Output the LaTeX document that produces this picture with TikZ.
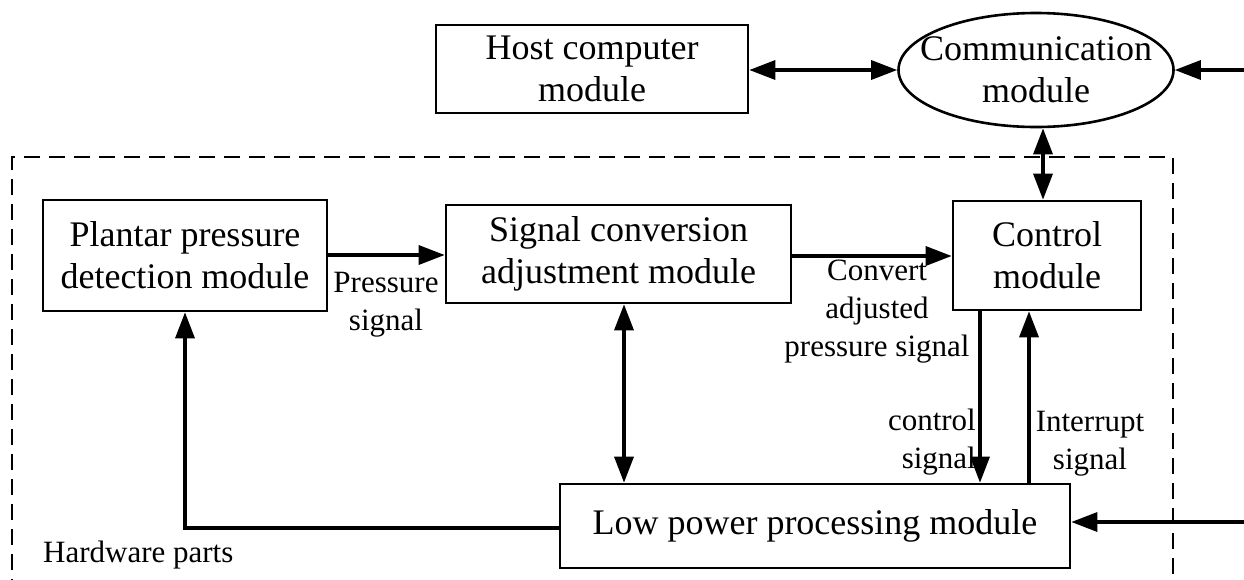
\documentclass[tikz,border=0pt]{standalone}
\usepackage{fontspec}
\setmainfont{Liberation Serif}
\usetikzlibrary{arrows.meta,shapes.geometric}
\tikzset{
  box/.style={draw, line width=2.6pt, inner sep=0pt, align=center, font=\fontsize{36}{42}\selectfont},
  lbl/.style={inner sep=0pt, align=center, font=\fontsize{31}{38}\selectfont},
  arr/.style={line width=3.3pt, -{Triangle[length=26pt,width=19pt]}},
  darr/.style={line width=3.3pt, {Triangle[length=26pt,width=19pt]}-{Triangle[length=26pt,width=19pt]}},
  hw/.style={line width=2.8pt, dash pattern=on 16pt off 9pt}
}
\begin{document}
\begin{tikzpicture}[x=1pt,y=-1pt]
\useasboundingbox (0,0) rectangle (1244,579);
\clip (0,0) rectangle (1244,579);
\fill[white] (0,0) rectangle (1244,579);

% hardware dashed frame
\draw[hw] (12,620) -- (12,157) -- (1173,157) -- (1173,620);

% boxes
\node[box, minimum width=312pt, minimum height=88pt] (host) at (592,69) {Host computer\\module};
\node[draw, line width=2.6pt, ellipse, minimum width=275pt, minimum height=114pt, inner sep=0pt] (comm) at (1036,70) {};
\node[inner sep=0pt, align=center, font=\fontsize{36}{42}\selectfont] (commtxt) at (comm.center) {Communication\\module};
\node[box, minimum width=284pt, minimum height=111pt] (plantar) at (185,255.5) {Plantar pressure\\detection module};
\node[box, minimum width=345pt, minimum height=98pt] (signal) at (618.5,254) {Signal conversion\\adjustment module};
\node[box, minimum width=188pt, minimum height=109pt] (control) at (1047,255.5) {Control\\module};
\node[box, minimum width=510pt, minimum height=84pt] (low) at (815,526) {Low power processing module};

% external entry points
\coordinate (ecomm) at (1260,70);
\coordinate (elow) at (1260,522);

% connectors
\draw[darr] (host.east |- 0,70) -- (comm.west);
\draw[arr] (ecomm) -- (comm.east |- ecomm);
\draw[darr] (comm.south -| 1043,0) -- (control.north -| 1043,0);
\draw[arr] (plantar.east |- 0,255) -- (signal.west |- 0,255);
\draw[arr] (signal.east |- 0,256) -- (control.west |- 0,256);
\draw[darr] (signal.south -| 624,0) -- (low.north -| 624,0);
\draw[arr] (control.south -| 980,0) -- (low.north -| 980,0);
\draw[arr] (low.north -| 1029,0) -- (control.south -| 1029,0);
\draw[arr] (elow) -- (low.east |- elow);
\draw[arr] (low.west |- 0,528) -| (plantar.south);

% labels
\node[lbl] (lpress) at (386,305) {Pressure\\signal};
\node[lbl] (lconv) at (877,312) {Convert\\adjusted\\pressure signal};
\node[lbl, align=right, anchor=east] (lctrl) at (976,442) {control\\signal};
\node[lbl] (lint) at (1090,444) {Interrupt\\signal};
\node[lbl, anchor=base west] (lhw) at (43,562) {Hardware parts};
\end{tikzpicture}
\end{document}
